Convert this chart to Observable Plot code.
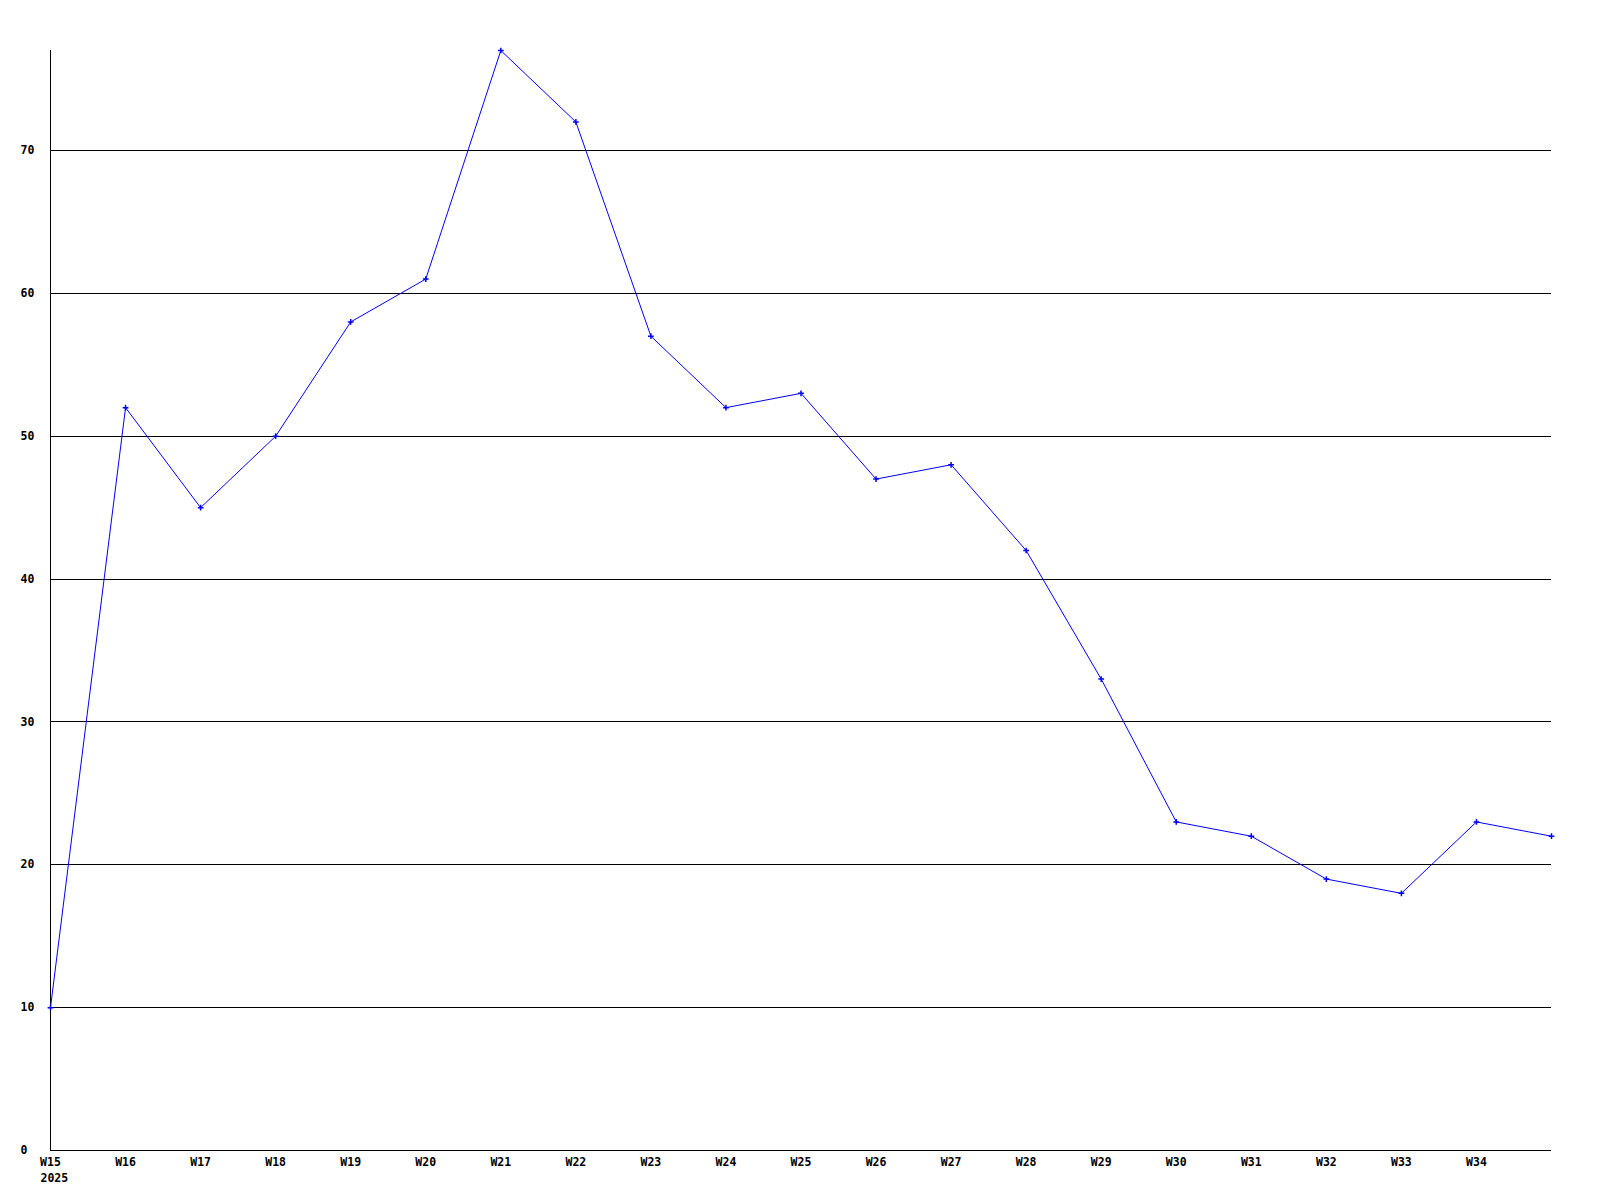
<!DOCTYPE html>
<html>
<head>
<meta charset="utf-8">
<script src="https://cdn.jsdelivr.net/npm/d3@7"></script>
<script src="https://cdn.jsdelivr.net/npm/@observablehq/plot@0.6"></script>
<style>
  html, body { margin: 0; padding: 0; background: #fff; }
</style>
</head>
<body>
<div id="chart"></div>
<script>
const weeks = [15, 16, 17, 18, 19, 20, 21, 22, 23, 24, 25, 26, 27, 28, 29, 30, 31, 32, 33, 34, 35];
const values = [10, 52, 45, 50, 58, 61, 77, 72, 57, 52, 53, 47, 48, 42, 33, 23, 22, 19, 18, 23, 22];
const xTicks = [15, 16, 17, 18, 19, 20, 21, 22, 23, 24, 25, 26, 27, 28, 29, 30, 31, 32, 33, 34];
const yTicks = [0, 10, 20, 30, 40, 50, 60, 70];
const gridLines = [10, 20, 30, 40, 50, 60, 70];
const yearLabel = "2025";

const data = weeks.map((w, i) => ({week: w, value: values[i]}));

const chart = Plot.plot({
  width: 1600,
  height: 1200,
  marginLeft: 50,
  marginRight: 49,
  marginTop: 50,
  marginBottom: 50,
  style: {fontFamily: "'DejaVu Sans Mono', monospace", fontSize: "11.5px", fontWeight: "bold", color: "#000", background: "#fff"},
  x: {domain: [15, 35], ticks: xTicks},
  y: {domain: [0, 77], ticks: yTicks},
  marks: [
    Plot.ruleY(gridLines, {stroke: "#000", strokeWidth: 1, shapeRendering: "crispEdges"}),
    Plot.ruleY([0], {stroke: "#000", strokeWidth: 1, shapeRendering: "crispEdges"}),
    Plot.ruleX([15], {stroke: "#000", strokeWidth: 1, shapeRendering: "crispEdges"}),
    Plot.axisX({ticks: xTicks, tickSize: 0, tickPadding: 7, tickFormat: d => "W" + d, label: null}),
    Plot.text([yearLabel], {x: () => 15, frameAnchor: "bottom", textAnchor: "start", dx: -10, dy: 31, text: d => d}),
    Plot.axisY({ticks: yTicks, tickSize: 0, tickPadding: 0, textAnchor: "start", dx: -30, label: null}),
    Plot.line(data, {x: "week", y: "value", stroke: "#0000ff", strokeWidth: 1}),
    Plot.dot(data, {x: "week", y: "value", symbol: "plus", r: 2, stroke: "#0000ff", strokeWidth: 1.5})
  ]
});
document.getElementById("chart").appendChild(chart);
</script>
</body>
</html>
